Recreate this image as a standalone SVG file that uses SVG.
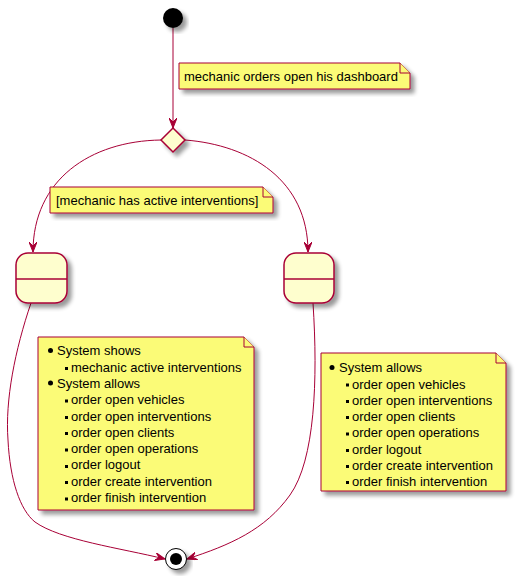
<svg xmlns="http://www.w3.org/2000/svg" width="516" height="579" viewBox="0 0 516 579">
<style>
.edge{fill:none;stroke:#A80036;stroke-width:1}
.state{fill:#FEFECE;stroke:#A80036;stroke-width:1.5}
.note{fill:#FBFB77;stroke:#A80036;stroke-width:1}
.t{font-family:"Liberation Sans",Arial,sans-serif;font-size:13px;fill:#000}
</style>
<defs>
<filter id="sh" x="-20%" y="-20%" width="150%" height="150%">
<feGaussianBlur in="SourceAlpha" stdDeviation="2"/>
<feOffset dx="4" dy="4" result="b"/>
<feComponentTransfer in="b" result="c"><feFuncA type="linear" slope="0.4"/></feComponentTransfer>
<feMerge><feMergeNode in="c"/><feMergeNode in="SourceGraphic"/></feMerge>
</filter>
<marker id="ar" viewBox="0 0 10 8" refX="10" refY="4" markerWidth="10" markerHeight="8" markerUnits="userSpaceOnUse" orient="auto">
<path d="M0,0 L10,4 L0,8 L4,4 Z" fill="#A80036" stroke="#A80036" stroke-width="1"/>
</marker>
</defs>
<g id="connectors">
<path class="edge" d="M173,28 L173,128" marker-end="url(#ar)"/>
<path class="edge" d="M161,140 C90,141 33,180 33,252" marker-end="url(#ar)"/>
<path class="edge" d="M185,140 C250,145 308,180 308,252" marker-end="url(#ar)"/>
<path class="edge" d="M31,303 C15,350 5,400 8,440 C10,480 20,510 35,522 C60,540 120,548 165,559" marker-end="url(#ar)"/>
<path class="edge" d="M313,303 C318,380 315,460 290,495 C265,530 230,545 187,559" marker-end="url(#ar)"/>
</g>
<g id="start"><circle cx="173" cy="18" r="10" fill="#000" filter="url(#sh)"/></g>
<g id="decision"><polygon points="173,128 185,140 173,152 161,140" class="state" filter="url(#sh)"/></g>
<g id="note1">
<path class="note" filter="url(#sh)" d="M179,63 L400,63 L410,73 L410,89 L179,89 Z"/>
<path class="note" d="M400,63 L400,73 L410,73"/>
<text class="t" x="184" y="81">mechanic orders open his dashboard</text>
</g>
<g id="note2">
<path class="note" filter="url(#sh)" d="M50,187 L263,187 L273,197 L273,213 L50,213 Z"/>
<path class="note" d="M263,187 L263,197 L273,197"/>
<text class="t" x="56" y="205">[mechanic has active interventions]</text>
</g>
<g id="stateLeft">
<rect class="state" x="16" y="253" width="51" height="50" rx="12" filter="url(#sh)"/>
<line x1="16" y1="279" x2="67" y2="279" stroke="#A80036" stroke-width="1.5"/>
</g>
<g id="stateRight">
<rect class="state" x="284" y="253" width="50" height="50" rx="12" filter="url(#sh)"/>
<line x1="284" y1="279" x2="334" y2="279" stroke="#A80036" stroke-width="1.5"/>
</g>
<g id="noteLeft">
<path class="note" filter="url(#sh)" d="M38,337 L244,337 L254,347 L254,510 L38,510 Z"/>
<path class="note" d="M244,337 L244,347 L254,347"/>
<circle cx="50.5" cy="350.5" r="2.5"/>
<circle cx="50.5" cy="383" r="2.5"/>
<g fill="#000">
<rect x="65" y="367" width="3" height="3"/>
<rect x="65" y="399.5" width="3" height="3"/>
<rect x="65" y="416" width="3" height="3"/>
<rect x="65" y="432" width="3" height="3"/>
<rect x="65" y="448.5" width="3" height="3"/>
<rect x="65" y="465" width="3" height="3"/>
<rect x="65" y="481" width="3" height="3"/>
<rect x="65" y="497.5" width="3" height="3"/>
</g>
<text class="t" x="57" y="355">System shows</text>
<text class="t" x="71" y="371.5">mechanic active interventions</text>
<text class="t" x="57" y="387.5">System allows</text>
<text class="t" x="71" y="404">order open vehicles</text>
<text class="t" x="71" y="420.5">order open interventions</text>
<text class="t" x="71" y="436.5">order open clients</text>
<text class="t" x="71" y="453">order open operations</text>
<text class="t" x="71" y="469">order logout</text>
<text class="t" x="71" y="485.5">order create intervention</text>
<text class="t" x="71" y="502">order finish intervention</text>
</g>
<g id="noteRight">
<path class="note" filter="url(#sh)" d="M321,353 L496,353 L506,363 L506,491 L321,491 Z"/>
<path class="note" d="M496,353 L496,363 L506,363"/>
<circle cx="332" cy="367.5" r="2.5"/>
<g fill="#000">
<rect x="346" y="383.5" width="3" height="3"/>
<rect x="346" y="400" width="3" height="3"/>
<rect x="346" y="416" width="3" height="3"/>
<rect x="346" y="432.5" width="3" height="3"/>
<rect x="346" y="449" width="3" height="3"/>
<rect x="346" y="465" width="3" height="3"/>
<rect x="346" y="481" width="3" height="3"/>
</g>
<text class="t" x="339" y="372">System allows</text>
<text class="t" x="352" y="388.5">order open vehicles</text>
<text class="t" x="352" y="404.5">order open interventions</text>
<text class="t" x="352" y="420.5">order open clients</text>
<text class="t" x="352" y="437">order open operations</text>
<text class="t" x="352" y="453.5">order logout</text>
<text class="t" x="352" y="469.5">order create intervention</text>
<text class="t" x="352" y="485.5">order finish intervention</text>
</g>
<g id="end" filter="url(#sh)">
<circle cx="176" cy="559" r="10.5" fill="#fff" stroke="#000" stroke-width="1"/>
<circle cx="176" cy="559" r="6" fill="#000"/>
</g>
</svg>
